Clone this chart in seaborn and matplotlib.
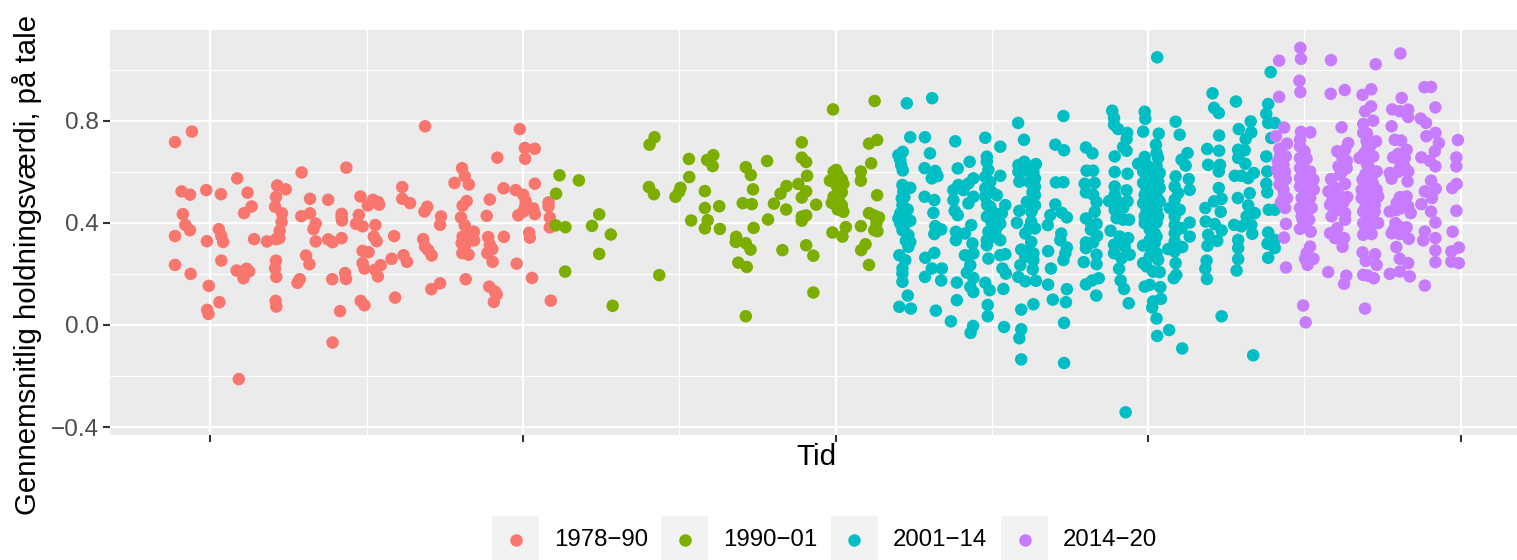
import pandas as pd
import matplotlib
matplotlib.use("Agg")
import matplotlib.pyplot as plt
import seaborn as sns
from matplotlib.lines import Line2D
from matplotlib.patches import Rectangle

# (tid, holdningsvaerdi), one list per period
p_1978 = [(1978.87,0.716),(1979.41,0.757),(1979.08,0.523),(1979.35,0.510),(1979.87,0.528),(1980.34,0.512),
(1980.86,0.574),(1981.19,0.518),(1981.32,0.464),(1981.08,0.438),(1979.12,0.434),(1979.2,0.392),(1979.35,0.371),
(1978.87,0.348),(1979.89,0.328),(1980.27,0.375),(1980.35,0.349),(1980.41,0.325),(1981.4,0.336),(1981.81,0.327),
(1978.87,0.235),(1979.37,0.2),(1980.35,0.252),(1979.95,0.153),(1980.29,0.089),(1979.9,0.059),(1979.94,0.043),
(1980.84,0.213),(1981.16,0.22),(1981.24,0.21),(1981.06,0.183),(1980.91,-0.212),(1982.14,0.546),(1982.41,0.531),
(1982.1,0.501),(1982.07,0.463),(1982.29,0.437),(1982.28,0.403),(1982.22,0.369),(1982.21,0.34),(1982.1,0.336),
(1982.1,0.252),(1982.07,0.222),(1982.11,0.188),(1982.09,0.094),(1982.11,0.072),(1982.92,0.597),(1983.19,0.494),
(1983.19,0.437),(1982.91,0.426),(1983.37,0.397),(1983.3,0.375),(1983.37,0.327),(1983.06,0.272),(1983.17,0.238),
(1982.86,0.179),(1982.79,0.165),(1983.77,0.49),(1984.35,0.616),(1984.2,0.435),(1984.2,0.422),(1984.21,0.409),
(1983.77,0.335),(1983.91,0.324),(1984.2,0.34),(1983.9,0.179),(1984.31,0.203),(1984.34,0.18),(1984.81,0.094),
(1984.93,0.077),(1984.15,0.054),(1983.91,-0.069),(1984.8,0.503),(1985.04,0.468),(1985.2,0.49),(1985.37,0.481),
(1985.4,0.471),(1984.75,0.431),(1984.66,0.396),(1984.87,0.386),(1985.28,0.391),(1985.23,0.346),(1985.32,0.328),
(1984.87,0.29),(1985.06,0.285),(1984.87,0.242),(1984.93,0.221),(1985.45,0.234),(1985.27,0.216),(1985.36,0.19),
(1985.88,0.348),(1985.8,0.259),(1986.18,0.273),(1986.29,0.247),(1985.91,0.107),(1986.14,0.54),(1986.14,0.494),
(1986.39,0.477),(1986.94,0.463),(1986.85,0.444),(1987.38,0.425),(1987.35,0.392),(1986.81,0.336),(1986.87,0.306),
(1986.97,0.293),(1987.08,0.272),(1986.87,0.778),(1987.35,0.163),(1987.07,0.14),(1988.05,0.614),(1988.14,0.582),
(1987.81,0.556),(1988.27,0.55),(1988.2,0.485),(1988.07,0.467),(1988.02,0.421),(1988.14,0.39),(1988.43,0.365),
(1988.07,0.346),(1988.25,0.346),(1988.44,0.331),(1988.04,0.32),(1988.14,0.307),(1988.06,0.281),(1988.26,0.275),
(1988.17,0.179),(1988.94,0.491),(1988.84,0.427),(1988.89,0.344),(1988.94,0.314),(1989.02,0.297),(1988.86,0.281),
(1989.03,0.247),(1989.39,0.345),(1988.92,0.15),(1989.1,0.131),(1989.16,0.12),(1989.07,0.09),(1989.38,0.535),
(1989.77,0.528),(1989.18,0.655),(1989.9,0.767),(1990.06,0.693),(1990.38,0.69),(1990.07,0.651),(1990.38,0.553),
(1990.01,0.51),(1990.09,0.484),(1990.07,0.464),(1990.33,0.456),(1990.38,0.434),(1989.85,0.429),(1990.01,0.444),
(1990.82,0.48),(1990.82,0.464),(1990.86,0.421),(1990.86,0.382),(1990.2,0.361),(1990.22,0.342),(1989.8,0.24),
(1990.29,0.184),(1990.89,0.095)]

p_1990 = [(1991.17,0.586),(1991.79,0.566),(1991.06,0.514),(1991.05,0.39),(1991.36,0.383),(1992.44,0.433),
(1992.21,0.388),(1992.81,0.354),(1992.44,0.278),(1991.35,0.209),(1992.87,0.075),(1994.21,0.735),(1994.05,0.706),
(1994.03,0.54),(1994.19,0.512),(1994.36,0.195),(1994.88,0.502),(1995.04,0.537),(1995.0,0.522),(1995.31,0.65),
(1995.32,0.579),(1995.82,0.524),(1995.82,0.458),(1996.28,0.465),(1995.38,0.409),(1995.91,0.41),(1995.82,0.378),
(1996.3,0.376),(1995.89,0.646),(1996.09,0.665),(1996.07,0.622),(1997.13,0.618),(1997.29,0.587),(1997.81,0.642),
(1997.36,0.531),(1997.03,0.477),(1997.32,0.473),(1997.38,0.38),(1996.82,0.345),(1996.81,0.325),(1997.13,0.32),
(1997.28,0.295),(1996.89,0.244),(1997.16,0.227),(1997.13,0.034),(1998.03,0.475),(1998.24,0.514),(1998.43,0.544),
(1998.42,0.452),(1997.84,0.413),(1998.3,0.293),(1998.81,0.552),(1999.06,0.523),(1998.92,0.499),(1998.92,0.715),
(1998.92,0.655),(1999.06,0.638),(1999.09,0.584),(1999.38,0.471),(1999.06,0.429),(1998.92,0.424),(1998.92,0.408),
(1999.06,0.312),(1999.29,0.271),(1999.29,0.127),(1999.92,0.844),(2001.25,0.877),(2001.33,0.724),(2001.07,0.71),
(2001.14,0.633),(2000.81,0.601),(2000.81,0.565),(2001.33,0.508),(2000.02,0.607),(1999.94,0.6),(2000.09,0.587),
(1999.82,0.565),(2000.2,0.57),(2000.0,0.554),(2000.25,0.552),(2000.07,0.535),(2000.2,0.519),(1999.94,0.502),
(2000.1,0.495),(1999.88,0.478),(2000.04,0.476),(2000.2,0.469),(2000.07,0.452),(2000.25,0.443),(1999.9,0.362),
(2000.33,0.383),(2000.22,0.346),(2000.81,0.387),(2001.07,0.438),(2001.23,0.429),(2001.39,0.421),(2001.31,0.4),
(2001.24,0.371),(2001.34,0.367),(2000.96,0.316),(2000.82,0.293),(2001.07,0.235)]

p_2001 = [(2002.28,0.868),(2003.09,0.888),(2002.39,0.735),(2002.86,0.735),(2002.15,0.678),(2002.01,0.665),
(2002.07,0.646),(2002.1,0.626),(2002.15,0.605),(2002.14,0.548),(2002.39,0.537),(2002.17,0.522),(2002.12,0.495),
(2002.14,0.469),(2002.31,0.452),(2002.07,0.437),(2002.01,0.417),(2002.39,0.408),(2002.07,0.397),(2002.14,0.371),
(2002.33,0.352),(2002.39,0.325),(2002.33,0.306),(2002.04,0.273),(2002.23,0.254),(2002.14,0.221),(2002.14,0.201),
(2002.14,0.169),(2002.31,0.115),(2002.04,0.071),(2002.41,0.064),(2002.2,0.5),(2002.15,0.43),(2002.2,0.39),(2002.25,0.33),
(2003.02,0.672),(2002.85,0.614),(2003.19,0.603),(2003.26,0.583),(2003.08,0.574),(2002.85,0.502),(2003.16,0.489),
(2003.13,0.439),(2003.19,0.387),(2003.38,0.374),(2003.16,0.356),(2003.16,0.282),(2002.87,0.263),(2003.08,0.221),
(2003.4,0.221),(2002.86,0.188),(2003.38,0.174),(2003.21,0.056),
(2003.83,0.719),(2004.29,0.639),(2003.91,0.613),(2004.41,0.574),(2003.93,0.548),(2003.77,0.528),(2004.25,0.554),
(2004.09,0.528),(2003.77,0.489),(2004.41,0.502),(2004.25,0.476),(2003.81,0.447),(2003.91,0.43),(2004.34,0.391),
(2003.85,0.365),(2004.14,0.358),(2003.85,0.332),(2004.38,0.319),(2004.14,0.273),(2004.41,0.28),(2004.31,0.234),
(2004.2,0.205),(2004.41,0.184),(2004.31,0.149),(2004.41,0.129),(2003.88,0.166),(2003.88,0.097),(2003.69,0.014),
(2004.4,-0.004),(2004.32,-0.031),
(2004.79,0.733),(2005.27,0.698),(2004.84,0.659),(2004.84,0.639),(2004.89,0.607),(2004.79,0.58),(2005.27,0.584),
(2004.79,0.535),(2004.79,0.502),(2005.16,0.508),(2004.95,0.463),(2005.43,0.469),(2004.84,0.424),(2005.32,0.437),
(2005.0,0.397),(2005.27,0.397),(2004.89,0.365),(2005.11,0.358),(2004.84,0.332),(2005.27,0.332),(2004.84,0.312),
(2004.89,0.26),(2005.27,0.273),(2005.43,0.277),(2005.34,0.221),(2005.45,0.201),(2004.79,0.165),(2004.93,0.136),
(2005.37,0.141),(2004.87,0.078),(2004.87,0.034),(2005.39,-0.008),(2005.84,0.791),(2006.03,0.725),
(2004.95,0.56),(2005.0,0.52),(2005.05,0.43),(2005.0,0.37),(2005.15,0.38),(2004.95,0.34),(2005.05,0.44),(2004.85,0.47),
(2006.04,0.639),(2005.85,0.626),(2006.41,0.63),(2005.85,0.6),(2006.33,0.6),(2005.88,0.561),(2006.38,0.574),
(2006.38,0.541),(2006.38,0.508),(2006.12,0.482),(2006.38,0.469),(2005.88,0.447),(2006.26,0.443),(2005.8,0.4),
(2006.26,0.404),(2006.38,0.378),(2006.07,0.358),(2006.26,0.325),(2005.94,0.295),(2006.33,0.28),(2006.07,0.267),
(2006.33,0.254),(2005.91,0.234),(2006.31,0.218),(2005.85,0.188),(2006.07,0.171),(2006.41,0.173),(2005.94,0.06),
(2006.33,0.081),(2005.94,-0.017),(2005.88,-0.052),(2005.94,-0.135),
(2006.15,0.62),(2006.25,0.6),(2006.2,0.56),(2006.3,0.52),(2006.28,0.45),(2006.2,0.38),(2006.2,0.29),(2005.95,0.6),
(2007.29,0.818),(2007.03,0.706),(2007.31,0.684),(2007.05,0.558),(2007.29,0.559),(2007.03,0.472),(2006.87,0.43),
(2007.24,0.439),(2007.4,0.421),(2006.79,0.391),(2007.22,0.358),(2007.19,0.332),(2007.4,0.303),(2007.35,0.28),
(2007.29,0.254),(2006.8,0.289),(2006.89,0.221),(2006.8,0.158),(2007.4,0.14),(2006.95,0.099),(2007.37,0.089),
(2007.31,0.008),(2007.31,-0.149),
(2008.01,0.695),(2008.22,0.672),(2008.03,0.604),(2008.24,0.604),(2007.97,0.553),(2008.29,0.556),(2008.01,0.519),
(2008.24,0.51),(2008.35,0.481),(2008.29,0.443),(2008.01,0.417),(2008.19,0.392),(2008.35,0.396),(2008.17,0.373),
(2008.37,0.349),(2008.01,0.323),(2008.24,0.323),(2008.01,0.301),(2008.35,0.275),(2008.35,0.238),(2007.94,0.246),
(2008.42,0.183),(2008.21,0.174),(2008.01,0.159),(2008.34,0.115),
(2008.85,0.839),(2008.91,0.81),(2008.91,0.784),(2009.04,0.767),(2009.33,0.752),(2009.31,0.728),(2009.2,0.697),
(2009.31,0.682),(2008.93,0.66),(2008.93,0.599),(2009.34,0.592),(2008.93,0.542),(2009.31,0.527),(2008.93,0.51),
(2008.75,0.485),(2008.99,0.49),(2009.34,0.484),(2009.2,0.458),(2008.93,0.451),(2008.99,0.418),(2009.2,0.412),
(2009.39,0.412),(2008.8,0.369),(2009.09,0.346),(2009.36,0.34),(2008.91,0.314),(2009.25,0.307),(2008.91,0.281),
(2009.41,0.275),(2009.15,0.261),(2009.07,0.22),(2009.12,0.174),(2009.23,0.141),(2009.38,0.085),(2009.28,-0.342),
(2010.29,1.048),(2009.89,0.835),(2009.91,0.807),(2009.84,0.757),(2010.34,0.749),(2010.25,0.706),(2010.27,0.673),
(2009.89,0.658),(2009.68,0.631),(2010.32,0.654),(2009.95,0.627),(2010.27,0.621),(2009.84,0.601),(2010.11,0.601),
(2010.37,0.595),(2009.95,0.582),(2010.21,0.575),(2010.05,0.562),(2010.32,0.562),(2009.84,0.556),(2010.21,0.542),
(2009.95,0.536),(2010.37,0.536),(2010.11,0.523),(2009.89,0.51),(2010.27,0.503),(2010.05,0.49),(2009.84,0.477),
(2010.37,0.484),(2010.16,0.464),(2009.95,0.451),(2010.27,0.451),(2010.05,0.438),(2009.89,0.425),(2010.32,0.425),
(2010.16,0.405),(2009.89,0.399),(2010.27,0.401),(2010.05,0.373),(2010.21,0.359),(2010.27,0.346),(2010.05,0.333),
(2009.84,0.311),(2010.21,0.32),(2010.11,0.294),(2010.27,0.281),(2010.05,0.268),(2010.32,0.255),(2009.84,0.242),
(2009.95,0.229),(2010.16,0.209),(2010.37,0.207),(2009.89,0.15),(2010.05,0.157),(2010.39,0.148),(2010.41,0.102),
(2010.16,0.092),(2010.13,0.068),(2010.27,0.025),(2010.29,-0.043),(2010.67,-0.02),(2011.09,-0.092),
(2010.88,0.796),(2011.01,0.745),(2011.26,0.673),(2011.07,0.647),(2011.2,0.624),(2010.88,0.582),(2011.3,0.571),
(2010.85,0.542),(2011.33,0.529),(2010.96,0.516),(2010.85,0.49),(2010.69,0.458),(2011.01,0.451),(2010.85,0.425),
(2010.85,0.392),(2011.33,0.401),(2011.07,0.379),(2010.85,0.359),(2011.33,0.346),(2010.85,0.327),(2011.09,0.305),
(2010.64,0.297),(2010.85,0.288),(2010.88,0.242),(2010.9,0.196),(2010.82,0.183),
(2012.06,0.907),(2012.11,0.85),(2012.26,0.83),(2012.27,0.742),(2011.89,0.689),(2012.27,0.682),(2011.92,0.627),
(2012.3,0.627),(2012.26,0.601),(2012.26,0.536),(2012.35,0.494),(2012.11,0.484),(2011.83,0.458),(2012.32,0.443),
(2011.84,0.405),(2012.13,0.395),(2012.35,0.37),(2011.92,0.353),(2012.21,0.329),(2011.9,0.31),(2011.87,0.252),
(2011.83,0.22),(2011.88,0.18),(2012.35,0.034),
(2012.81,0.875),(2013.28,0.797),(2012.9,0.767),(2013.3,0.754),(2013.12,0.728),(2012.88,0.686),(2013.09,0.684),
(2012.88,0.654),(2013.11,0.631),(2012.77,0.584),(2012.98,0.584),(2013.38,0.595),(2013.2,0.575),(2013.25,0.516),
(2012.87,0.497),(2013.2,0.468),(2013.41,0.438),(2013.15,0.425),(2012.75,0.392),(2013.3,0.392),(2012.98,0.386),
(2013.33,0.357),(2012.88,0.333),(2012.88,0.301),(2012.88,0.258),(2012.83,0.213),(2013.36,-0.119),
(2013.92,0.99),(2013.84,0.865),(2013.78,0.827),(2013.84,0.791),(2014.05,0.791),(2013.94,0.732),(2013.78,0.66),
(2013.81,0.601),(2013.78,0.553),(2013.81,0.519),(2013.86,0.451),(2014.05,0.451),(2013.84,0.362),(2014.05,0.333),
(2013.82,0.318),(2014.05,0.301),(2013.84,0.263)]

p_2014 = [(2014.87,1.085),(2014.89,1.042),(2014.19,1.035),(2015.85,1.037),(2017.28,1.021),(2018.07,1.063),
(2014.84,0.956),(2014.87,0.912),(2014.19,0.893),(2015.84,0.905),(2016.29,0.92),(2017.14,0.923),(2016.86,0.901),
(2018.84,0.931),(2019.05,0.932),(2018.11,0.889),(2019.19,0.852),(2017.13,0.856),(2016.94,0.837),(2017.2,0.8),
(2017.81,0.844),(2018.05,0.837),(2018.32,0.843),(2018.32,0.814),(2018.72,0.808),(2018.89,0.791),(2017.79,0.778),
(2014.35,0.773),(2016.19,0.774),(2016.88,0.787),(2016.88,0.752),(2014.89,0.756),(2015.19,0.754),(2014.09,0.739),
(2014.44,0.71),(2014.86,0.725),(2014.86,0.699),(2019.91,0.724),(2016.4,0.712),(2016.99,0.719),(2017.29,0.719),
(2017.89,0.725),(2018.09,0.722),(2018.9,0.739),(2019.19,0.752),(2019.3,0.712),(2016.05,0.68),(2016.3,0.686),
(2014.22,0.686),(2019.17,0.68),(2018.27,0.686),(2016.99,0.686),(2019.86,0.656),(2019.86,0.621),(2017.84,0.656),
(2016.76,0.654),(2017.1,0.654),(2014.22,0.66),(2014.86,0.654),(2015.07,0.651),(2018.74,0.656),(2019.01,0.643),
(2019.19,0.621),(2016.35,0.643),(2016.09,0.621),(2016.35,0.614),(2018.21,0.654),(2014.12,0.608),(2014.33,0.627),
(2014.38,0.599),(2014.86,0.614),(2015.18,0.601),(2017.04,0.621),(2017.31,0.601),(2018.32,0.601),(2018.05,0.614),
(2017.73,0.595),(2016.14,0.588),(2015.85,0.571),(2015.29,0.569),(2014.86,0.575),(2014.28,0.562),(2016.86,0.569),
(2017.15,0.575),(2017.79,0.573),(2018.3,0.562),(2019.05,0.565),(2016.3,0.552),(2019.87,0.552),(2019.73,0.536),
(2019.2,0.533),(2018.85,0.523),(2014.86,0.542),(2015.23,0.529),(2014.33,0.529),(2016.83,0.529),(2017.31,0.529),
(2015.77,0.523),(2016.09,0.512),(2016.37,0.501),(2018.27,0.503),(2019.08,0.497),(2014.91,0.497),(2014.44,0.497),
(2015.18,0.497),(2017.09,0.503),(2017.36,0.503),(2016.83,0.497),(2017.95,0.477),(2015.82,0.471),(2016.14,0.477),
(2018.74,0.473),(2014.38,0.458),(2014.86,0.458),(2015.23,0.458),(2018.32,0.464),(2017.09,0.471),(2017.73,0.444),
(2018.1,0.458),(2018.4,0.438),(2019.05,0.444),(2019.86,0.447),(2016.3,0.438),(2015.87,0.425),(2016.88,0.444),
(2017.25,0.444),(2014.91,0.425),(2015.15,0.412),(2016.3,0.412),(2017.09,0.418),(2019.19,0.401),(2014.41,0.396),
(2017.91,0.399),(2016.88,0.399),(2017.36,0.399),(2018.27,0.382),(2014.86,0.376),(2016.05,0.379),(2018.02,0.386),
(2019.74,0.365),(2018.85,0.366),(2015.2,0.365),(2015.82,0.359),(2016.88,0.353),(2017.15,0.356),(2017.79,0.359),
(2018.05,0.356),(2014.35,0.342),(2016.27,0.34),(2015.98,0.34),(2018.34,0.337),(2018.8,0.331),(2019.19,0.34),
(2016.22,0.306),(2015.18,0.307),(2017.94,0.305),(2019.19,0.292),(2019.94,0.303),(2019.7,0.288),(2016.86,0.284),
(2017.26,0.277),(2015.07,0.281),(2015.29,0.259),(2015.02,0.259),(2018.05,0.259),(2016.96,0.251),(2017.31,0.235),
(2015.1,0.235),(2018.32,0.242),(2019.19,0.246),(2019.7,0.248),(2019.94,0.242),(2014.41,0.225),(2015.76,0.207),
(2018.05,0.209),(2017.73,0.2),(2018.37,0.19),(2016.34,0.193),(2016.27,0.161),(2016.88,0.196),(2017.03,0.193),
(2017.22,0.183),(2018.85,0.154),(2014.96,0.076),(2016.94,0.064),(2015.04,0.01),
(2014.2,0.69),(2014.4,0.66),(2014.15,0.64),(2014.3,0.61),(2014.2,0.585),(2014.4,0.57),(2014.2,0.55),(2014.33,0.5),
(2014.25,0.48),(2015.0,0.68),(2014.95,0.63),(2015.1,0.6),(2015.0,0.57),(2015.1,0.55),(2015.0,0.52),(2015.1,0.51),
(2015.0,0.47),(2015.08,0.44),(2014.95,0.41),(2015.05,0.4),(2015.2,0.57),(2015.3,0.53),(2014.95,0.54),
(2017.0,0.75),(2017.1,0.7),(2016.9,0.67),(2017.2,0.66),(2017.0,0.63),(2017.2,0.6),(2016.95,0.59),(2017.1,0.56),
(2017.0,0.53),(2017.2,0.55),(2016.9,0.5),(2017.1,0.48),(2017.25,0.47),(2016.95,0.46),(2017.0,0.41),(2017.15,0.43),
(2016.95,0.37),(2017.1,0.38),(2016.2,0.66),(2016.15,0.62),(2016.2,0.6),(2015.95,0.54),(2016.0,0.5),(2015.9,0.49),
(2016.05,0.45),(2016.25,0.48),(2018.0,0.67),(2018.1,0.63),(2018.0,0.6),(2018.2,0.62),(2017.95,0.45),(2018.15,0.47),
(2018.2,0.5),(2018.05,0.5),(2017.85,0.37),(2018.15,0.37)]

perioder = ["1978−90", "1990−01", "2001−14", "2014−20"]
farver = ["#F8766D", "#7CAE00", "#00BFC4", "#C77CFF"]
y_ticks = [-0.4, 0.0, 0.4, 0.8]
y_labels = ["−0.4", "0.0", "0.4", "0.8"]
x_ticks = [1980, 1990, 2000, 2010, 2020]

frames = []
for navn, punkter in zip(perioder, [p_1978, p_1990, p_2001, p_2014]):
    d = pd.DataFrame(punkter, columns=["tid", "vaerdi"])
    d["periode"] = navn
    frames.append(d)
df = pd.concat(frames, ignore_index=True)

sns.set_theme(style="darkgrid")
plt.rcParams["font.family"] = ["Liberation Sans", "DejaVu Sans"]

W, H = 1517, 560
fig = plt.figure(figsize=(W / 100, H / 100), dpi=100)
ax = fig.add_axes([110 / W, 1 - 435 / H, (W - 110) / W, 405 / H])

sns.scatterplot(data=df, x="tid", y="vaerdi", hue="periode", hue_order=perioder,
                palette=farver, s=81, linewidth=0, alpha=1, legend=False, ax=ax, zorder=3)

ax.set_facecolor("#EBEBEB")
for s in ax.spines.values():
    s.set_visible(False)
ax.set_xlim(1976.79, 2021.8)
ax.set_ylim(-0.431, 1.155)
ax.set_xticks(x_ticks)
ax.set_xticks([1985, 1995, 2005, 2015], minor=True)
ax.set_yticks(y_ticks)
ax.set_yticks([-0.2, 0.2, 0.6, 1.0], minor=True)
ax.set_xticklabels([""] * len(x_ticks))
ax.set_yticklabels(y_labels)
ax.grid(which="major", color="white", linewidth=1.7)
ax.grid(which="minor", color="white", linewidth=0.85)
ax.tick_params(which="major", length=5, width=1.5, color="#333333", labelcolor="#4D4D4D",
               labelsize=17.6, pad=3, bottom=True, left=True)
ax.tick_params(which="minor", length=0)
ax.set_xlabel("Tid", fontsize=21.4, color="black", labelpad=-2, x=0.502)
fig.text(27 / W, 1 - 265 / H, "Gennemsnitlig holdningsværdi, på tale", rotation=90,
         fontsize=21.2, color="black", ha="center", va="center")
ax.set_ylabel("")

# legend along the bottom, ggplot style keys
key_x = [492, 661, 831, 1001]
for navn, farve, kx in zip(perioder, farver, key_x):
    fig.add_artist(Rectangle((kx / W, 0), 47 / W, 44 / H, transform=fig.transFigure,
                             facecolor="#F2F2F2", edgecolor="none"))
    fig.add_artist(Line2D([(kx + 23.5) / W], [20.5 / H], transform=fig.transFigure, marker="o",
                          markersize=9, markerfacecolor=farve, markeredgewidth=0, linestyle="none"))
    fig.text((kx + 62) / W, 20 / H, navn, fontsize=17.3, color="black", ha="left", va="center")

fig.savefig("out.png", dpi=100, facecolor="white")
